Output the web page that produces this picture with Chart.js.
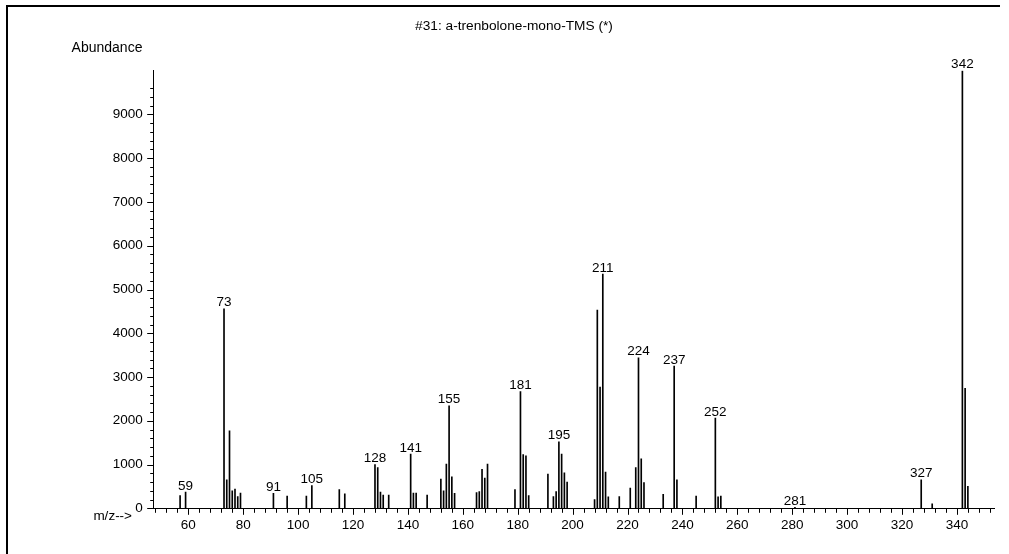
<!DOCTYPE html>
<html>
<head>
<meta charset="utf-8">
<title>a-trenbolone-mono-TMS</title>
<script src="https://cdn.jsdelivr.net/npm/chart.js@4/dist/chart.umd.min.js"></script>
<style>
    html, body { margin: 0; padding: 0; background: #fff; }
    #spectrum { display: block; }
</style>
</head>
<body>
<canvas id="spectrum" width="1009" height="554"></canvas>
<script>
const chartTitle = '#31: a-trenbolone-mono-TMS (*)';

// m/z of each ion and its abundance
const mz = [57, 59, 73, 74, 75, 76, 77, 78, 79, 91, 96, 103, 105, 115, 117,
    128, 129, 130, 131, 133, 141, 142, 143, 147, 152, 153, 154, 155, 156, 157,
    165, 166, 167, 168, 169, 179, 181, 182, 183, 184, 191, 193, 194, 195, 196,
    197, 198, 208, 209, 210, 211, 212, 213, 217, 221, 223, 224, 225, 226, 233,
    237, 238, 245, 252, 253, 254, 281, 327, 331, 342, 343, 344];
const abundance = [290, 370, 4560, 650, 1770, 400, 440, 270, 350, 340, 280, 280, 520, 430, 330,
    1000, 930, 370, 300, 300, 1240, 350, 350, 300, 670, 400, 1010, 2340, 720, 340,
    360, 380, 890, 690, 1010, 430, 2670, 1230, 1200, 290, 780, 270, 380, 1520, 1240,
    810, 600, 200, 4530, 2770, 5350, 830, 260, 270, 460, 930, 3440, 1130, 590, 320,
    3250, 650, 280, 2060, 260, 280, 20, 650, 100, 10000, 2740, 500];

// peaks that carry their m/z above the line
const labeledPeaks = [59, 73, 91, 105, 128, 141, 155, 181, 195, 211, 224, 237, 252, 281, 327, 342];

const mzMin = 47.2;
const mzMax = 353.7;
const yMax = 10000;

const FONT = '"Liberation Sans", Arial, sans-serif';

function stepTicks(from, to, step) {
    const out = [];
    for (let v = from; v <= to; v += step) out.push({ value: v });
    return out;
}

const decorations = {
    id: 'decorations',
    afterDatasetsDraw(chart) {
        const ctx = chart.ctx;
        const meta = chart.getDatasetMeta(0);
        ctx.save();
        ctx.fillStyle = '#000';
        ctx.font = '13.5px ' + FONT;
        ctx.textAlign = 'center';
        ctx.textBaseline = 'alphabetic';
        meta.data.forEach((bar, i) => {
            if (labeledPeaks.includes(mz[i])) {
                ctx.fillText(String(mz[i]), bar.x, bar.y - 2.5);
            }
        });
        ctx.restore();
    },
    afterDraw(chart) {
        const ctx = chart.ctx;
        const x = chart.scales.x;
        const y = chart.scales.y;
        ctx.save();
        ctx.fillStyle = '#000';

        // frame
        ctx.fillRect(6, 5, 994, 2);
        ctx.fillRect(6, 5, 2, 549);

        // tick marks
        ctx.strokeStyle = '#000';
        ctx.lineWidth = 1;
        ctx.beginPath();
        x.ticks.forEach(t => {
            const px = Math.round(x.getPixelForValue(t.value)) + 0.5;
            const len = t.value % 20 === 0 ? 6 : 4;
            ctx.moveTo(px, x.top + 0.5);
            ctx.lineTo(px, x.top + 0.5 + len);
        });
        y.ticks.forEach(t => {
            const py = Math.round(y.getPixelForValue(t.value)) + 0.5;
            const len = t.value % 1000 === 0 ? 6 : 3;
            ctx.moveTo(y.right, py);
            ctx.lineTo(y.right - len, py);
        });
        ctx.stroke();

        ctx.textAlign = 'center';
        ctx.font = '13.7px ' + FONT;
        ctx.fillText(chartTitle, 514, 30);
        ctx.font = '14px ' + FONT;
        ctx.fillText('Abundance', 107, 52);

        ctx.font = '13.5px ' + FONT;
        ctx.textAlign = 'right';
        ctx.fillText('m/z-->', 132, 520);
        ctx.restore();
    }
};

new Chart(document.getElementById('spectrum'), {
    type: 'bar',
    data: {
        datasets: [{
            data: mz.map((m, i) => ({ x: m, y: abundance[i] })),
            backgroundColor: '#000',
            borderWidth: 0,
            barThickness: 1
        }]
    },
    options: {
        responsive: false,
        animation: false,
        devicePixelRatio: 1,
        layout: {
            padding: { left: 0, right: 14.5, top: 70.7, bottom: 0 }
        },
        plugins: {
            legend: { display: false },
            tooltip: { enabled: false }
        },
        scales: {
            x: {
                type: 'linear',
                min: mzMin,
                max: mzMax,
                offset: false,
                afterBuildTicks: scale => { scale.ticks = stepTicks(48, 352, 4); },
                afterFit: scale => { scale.height = 45.7; },
                grid: { display: false, drawTicks: false },
                border: { display: true, color: '#000', width: 1 },
                ticks: {
                    autoSkip: false,
                    maxRotation: 0,
                    padding: 8.6,
                    color: '#000',
                    font: { family: FONT, size: 13.5 },
                    callback: v => (v % 20 === 0 ? String(v) : '')
                }
            },
            y: {
                min: 0,
                max: yMax,
                afterBuildTicks: scale => { scale.ticks = stepTicks(0, 9600, 200); },
                afterFit: scale => { scale.width = 153.2; },
                grid: { display: false, drawTicks: false },
                border: { display: true, color: '#000', width: 1 },
                ticks: {
                    autoSkip: false,
                    padding: 10.5,
                    color: '#000',
                    font: { family: FONT, size: 13.5 },
                    callback: v => (v % 1000 === 0 ? String(v) : '')
                }
            }
        }
    },
    plugins: [decorations]
});
</script>
</body>
</html>
